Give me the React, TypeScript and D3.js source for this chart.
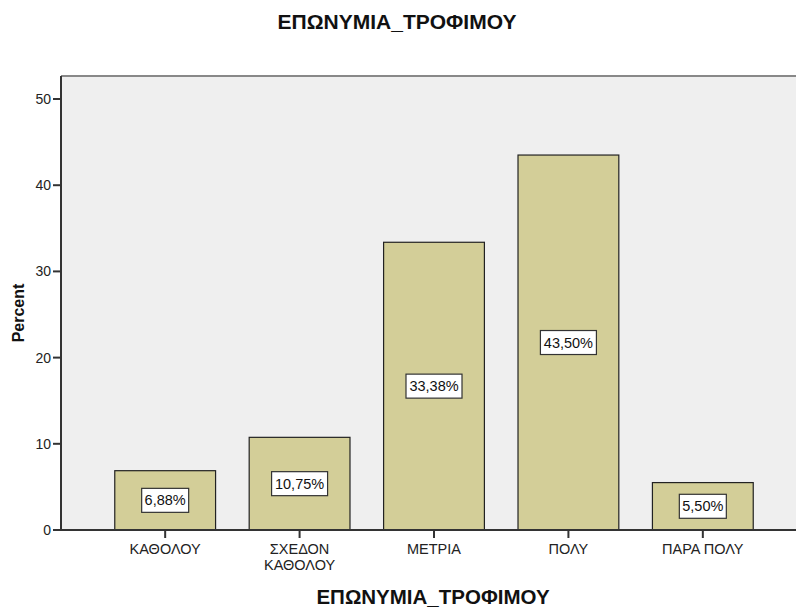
import React from "react";
import * as d3 from "d3";

const title = "ΕΠΩΝΥΜΙΑ_ΤΡΟΦΙΜΟΥ";
const categories = ["ΚΑΘΟΛΟΥ", "ΣΧΕΔΟΝ ΚΑΘΟΛΟΥ", "ΜΕΤΡΙΑ", "ΠΟΛΥ", "ΠΑΡΑ ΠΟΛΥ"];
const categoryLines = [["ΚΑΘΟΛΟΥ"], ["ΣΧΕΔΟΝ", "ΚΑΘΟΛΟΥ"], ["ΜΕΤΡΙΑ"], ["ΠΟΛΥ"], ["ΠΑΡΑ ΠΟΛΥ"]];
const percents = [6.88, 10.75, 33.38, 43.5, 5.5];
const yTicks = [0, 10, 20, 30, 40, 50];

const W = 796, H = 608;
const left = 61, top = 76, bottom = 530, right = 807;
const font = "'Liberation Sans', Arial, sans-serif";

export default function App() {
  const x = d3.scaleBand<string>().domain(categories).range([left, right]).paddingInner(0.25).paddingOuter(0.4);
  const y = d3.scaleLinear().domain([0, 52.67]).range([bottom, top]);
  const fmt = (v: number) => v.toFixed(2).replace(".", ",") + "%";
  return (
    <svg width={W} height={H} style={{ position: "fixed", left: 0, top: 0, background: "#fff" }} fontFamily={font}>
      <text x={397} y={29} textAnchor="middle" fontSize={21} fontWeight="bold" fill="#111">{title}</text>
      <rect x={left} y={top} width={W - left} height={bottom - top} fill="#efefef" />
      <line x1={left} x2={W} y1={top} y2={top} stroke="#888" strokeWidth={2} />
      {percents.map((v, i) => {
        const c = categories[i];
        const bx = x(c)!;
        const by = y(v);
        const bw = x.bandwidth();
        const cy = (by + bottom) / 2;
        const label = fmt(v);
        const boxW = label.length > 5 ? 56 : 47;
        return (
          <g key={c}>
            <rect x={bx} y={by} width={bw} height={bottom - by} fill="#d3ce98" stroke="#222" strokeWidth={1.2} />
            <rect x={bx + bw / 2 - boxW / 2} y={cy - 12} width={boxW} height={24} fill="#fff" stroke="#333" strokeWidth={1.2} />
            <text x={bx + bw / 2} y={cy + 5} textAnchor="middle" fontSize={14.5} fill="#111">{label}</text>
          </g>
        );
      })}
      <line x1={left} x2={left} y1={top} y2={bottom} stroke="#333" strokeWidth={2} />
      <line x1={left} x2={W} y1={bottom} y2={bottom} stroke="#333" strokeWidth={2} />
      {yTicks.map((t) => (
        <g key={t}>
          <line x1={left - 8} x2={left} y1={y(t)} y2={y(t)} stroke="#333" strokeWidth={2} />
          <text x={left - 10} y={y(t) + 5} textAnchor="end" fontSize={14} fill="#222">{t}</text>
        </g>
      ))}
      {categories.map((c, i) => {
        const cx = x(c)! + x.bandwidth() / 2;
        return (
          <g key={c}>
            <line x1={cx} x2={cx} y1={bottom} y2={bottom + 8} stroke="#333" strokeWidth={2} />
            {categoryLines[i].map((ln, j) => (
              <text key={j} x={cx} y={554 + j * 16} textAnchor="middle" fontSize={14.5} fill="#222">{ln}</text>
            ))}
          </g>
        );
      })}
      <text x={433} y={604} textAnchor="middle" fontSize={20.5} fontWeight="bold" fill="#111">{title}</text>
      <text transform={`translate(24,${(top + bottom) / 2 + 10}) rotate(-90)`} textAnchor="middle" fontSize={16} fontWeight="bold" fill="#111">Percent</text>
    </svg>
  );
}
